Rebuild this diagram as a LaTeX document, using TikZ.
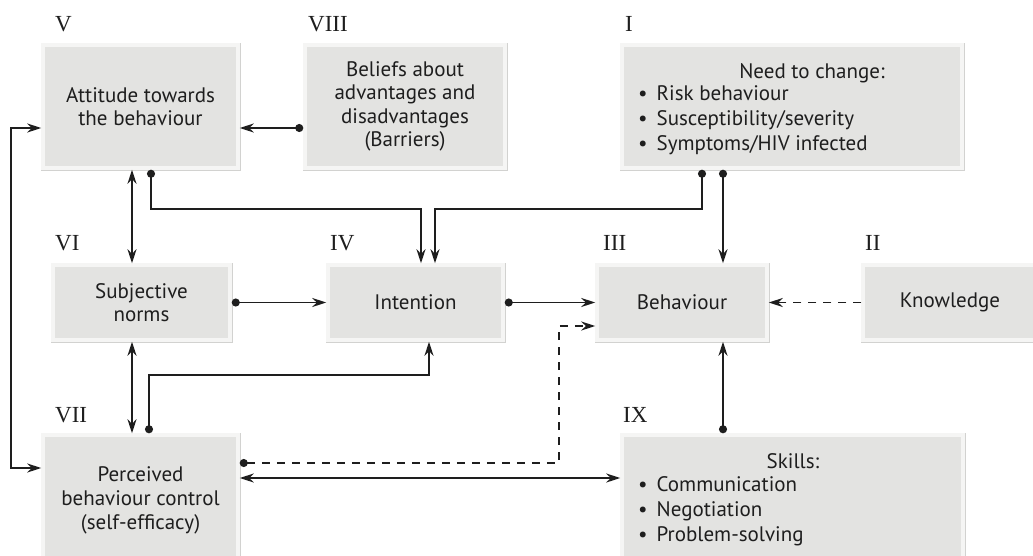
\documentclass[tikz,border=0pt]{standalone}
\usepackage{fontspec}
\setmainfont{PT Sans}
\newfontfamily\numfont{Liberation Serif}
\usetikzlibrary{arrows.meta}
\definecolor{boxfill}{HTML}{E3E3E1}
\definecolor{boxedge}{HTML}{F5F5F4}
\definecolor{boxline}{HTML}{D2D2D0}
\definecolor{ink}{HTML}{1E1E1E}
\newcommand{\blt}{\textbullet\hspace{9pt}}
\begin{document}
\begin{tikzpicture}[x=1pt,y=-1pt,
  box/.style={rectangle, fill=boxfill, draw=boxedge, line width=3.5pt,
    preaction={draw=boxline, line width=5pt},
    inner sep=0pt, align=center, text=ink,
    font=\fontsize{21}{23.3}\selectfont},
  txt/.style={inner sep=0pt, align=left, text=ink, font=\fontsize{21}{24.7}\selectfont},
  roman/.style={inner sep=0pt, anchor=base west, text=ink, font=\numfont\fontsize{23}{25}\selectfont},
  conn/.style={line width=1.8pt, draw=ink},
  dashconn/.style={conn, dash pattern=on 8pt off 7pt},
  tip/.style={-{Stealth[length=14pt,width=9pt]}},
  duo/.style={{Stealth[length=14pt,width=9pt]}-{Stealth[length=14pt,width=9pt]}},
  dotarr/.style={{Circle[length=8pt]}-{Stealth[length=14pt,width=9pt]}}
]
\useasboundingbox (0,0) rectangle (1033,555);
\fill[white] (0,0) rectangle (1033,555);
\clip (0,0) rectangle (1033,555);

% boxes
\node[box, minimum width=195, minimum height=123] (v) at (140.5,106.5) {Attitude towards\\the behaviour};
\node[box, minimum width=200, minimum height=123] (viii) at (405,106.5) {Beliefs about\\advantages and\\disadvantages\\(Barriers)};
\node[box, minimum width=340, minimum height=123] (i) at (792,106.5) {};
\node[box, minimum width=177, minimum height=75] (vi) at (141.5,302.5) {Subjective\\norms};
\node[box, minimum width=175, minimum height=75] (iv) at (415.5,302.5) {Intention};
\node[box, minimum width=170, minimum height=75] (iii) at (682,302.5) {Behaviour};
\node[box, minimum width=187, minimum height=75] (ii) at (956.5,302.5) {};
\node[box, minimum width=195, minimum height=140] (vii) at (140.5,505) {};
\node[box, minimum width=341, minimum height=140] (ix) at (792.5,505) {};

% box texts
\node[txt, align=center, font=\fontsize{21}{24}\selectfont] (iitext) at (950,302.5) {Knowledge};
\node[txt, align=center, font=\fontsize{21}{24}\selectfont] (viitext) at (140.5,500) {Perceived\\behaviour control\\(self-efficacy)};
\node[txt, anchor=base] (ihead) at (812,78) {Need to change:};
\node[txt, anchor=base west] (ilist) at (638,150) {\blt Risk behaviour\\\blt Susceptibility/severity\\\blt Symptoms/HIV infected};
\node[txt, anchor=base] (ixhead) at (793,468) {Skills:};
\node[txt, anchor=base west] (ixlist) at (638,541) {\blt Communication\\\blt Negotiation\\\blt Problem-solving};

% roman labels
\node[roman] (lv) at (55,31) {V};
\node[roman] (lviii) at (308,31) {VIII};
\node[roman] (li) at (625,31) {I};
\node[roman] (lvi) at (55,250) {VI};
\node[roman] (liv) at (330,250) {IV};
\node[roman] (liii) at (603,250) {III};
\node[roman] (lii) at (865,250) {II};
\node[roman] (lvii) at (55,422) {VII};
\node[roman] (lix) at (623,422) {IX};

% connectors
\draw[conn, dotarr] ([yshift=-21.5pt]viii.west) -- ([yshift=-21.5pt]v.east);
\draw[conn, dotarr] ([xshift=10.5pt]v.south) -- ++(0,39) -| ([xshift=5.5pt]iv.north);
\draw[conn, dotarr] ([xshift=-90pt]i.south) -- ++(0,39) -| ([xshift=19.5pt]iv.north);
\draw[conn, dotarr] ([xshift=-69pt]i.south) -- ([xshift=41pt]iii.north);
\draw[conn, duo] ([xshift=-8.5pt]v.south) -- ([xshift=-9.5pt]vi.north);
\draw[conn, dotarr] (vi.east) -- (iv.west);
\draw[conn, dotarr] (iv.east) -- (iii.west);
\draw[dashconn, tip] (ii.west) -- (iii.east);
\draw[conn, duo] ([xshift=-9.5pt]vi.south) -- ([xshift=-8.5pt]vii.north);
\draw[conn, dotarr] ([xshift=8.5pt]vii.north) -- ++(0,-58) -| ([xshift=13.5pt]iv.south);
\draw[conn, duo] ([yshift=-21.5pt]v.west) -- ++(-30,0) |- ([yshift=37pt]vii.west);
\draw[dashconn, dotarr] ([yshift=42pt]vii.east) -- ++(319,0) |- ([yshift=-23.5pt]iii.west);
\draw[conn, duo] ([yshift=27pt]vii.east) -- ([yshift=27pt]ix.west);
\draw[conn, dotarr] ([xshift=-69.5pt]ix.north) -- ([xshift=41pt]iii.south);
\end{tikzpicture}
\end{document}
